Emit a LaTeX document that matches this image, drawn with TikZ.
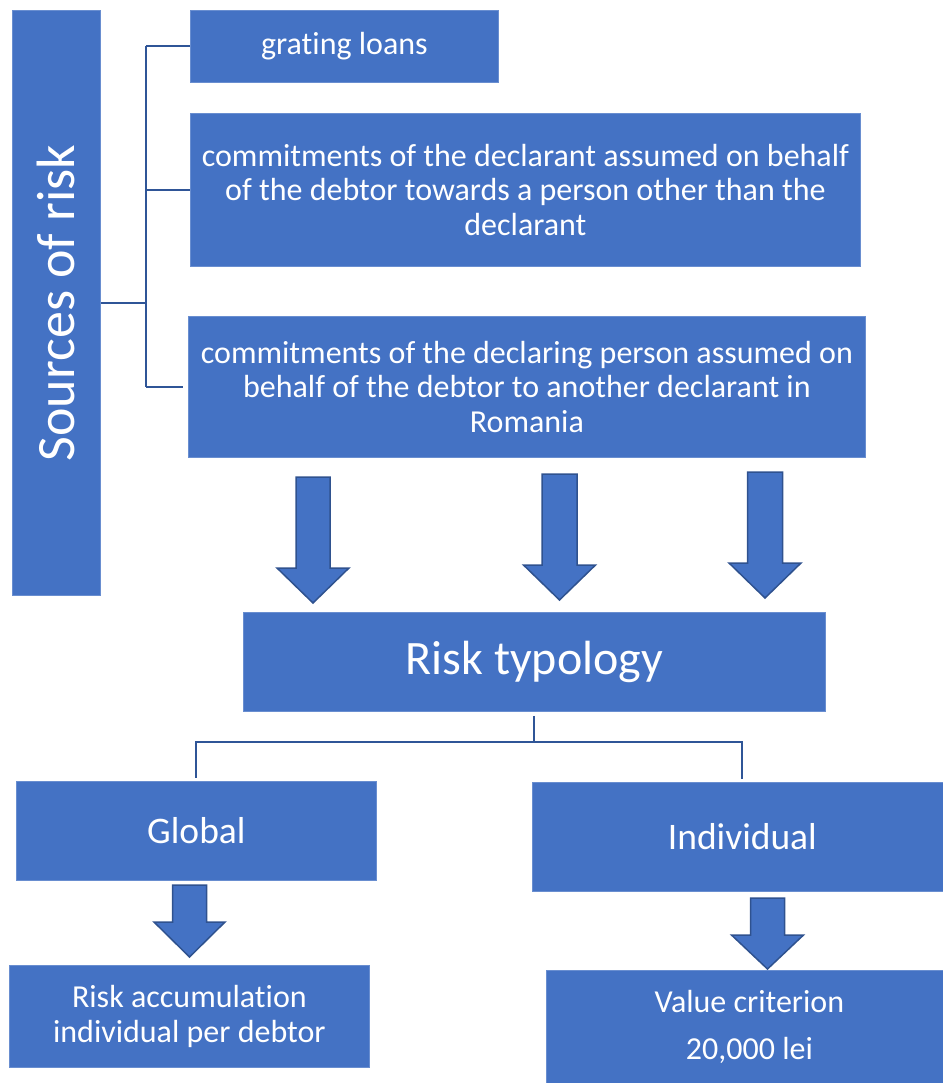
\documentclass[tikz,border=0pt]{standalone}
\usepackage{fontspec}
\setmainfont{Carlito}[Ligatures=NoCommon]
\usepackage{xcolor}

\definecolor{boxblue}{HTML}{4472C4}
\definecolor{lineblue}{HTML}{2F5597}
\definecolor{edgeblue}{HTML}{2F528F}

% block arrow: centre x, top, head base, tip, shaft half width, head half width
\newcommand{\blockarrow}[6]{%
    \draw[bigarrow] (#1-#5,#2) -- (#1+#5,#2) -- (#1+#5,#3) -- (#1+#6,#3)
        -- (#1,#4) -- (#1-#6,#3) -- (#1-#5,#3) -- cycle;}

\tikzset{
    box/.style={fill=boxblue, draw=boxblue!80!white, line width=0.8pt,
        inner sep=0pt, text=white, align=center, anchor=north west},
    txt/.style={font=\fontsize{32}{34.5}\selectfont},
    link/.style={draw=lineblue, line width=2pt},
    bigarrow/.style={fill=boxblue, draw=edgeblue, line width=1.5pt}
}

\begin{document}
\begin{tikzpicture}[x=1pt, y=-1pt]
        \useasboundingbox (0,0) rectangle (942,1083);

        \node[box, minimum width=88, minimum height=585] (src) at (12,10) {};
        \node[rotate=90, text=white, font=\fontsize{54}{60}\selectfont]
            (srctext) at (src.center) {Sources of risk};

        \node[box, txt, minimum width=308, minimum height=72] (loans) at (190,10) {grating loans};
        \node[box, txt, minimum width=670, minimum height=153] (com1) at (190,113)
            {commitments of the declarant assumed on behalf\\of the debtor towards a person other than the\\declarant};
        \node[box, txt, minimum width=677, minimum height=141] (com2) at (188,316)
            {commitments of the declaring person assumed on\\behalf of the debtor to another declarant in\\Romania};

        \node[box, font=\fontsize{48}{56}\selectfont, minimum width=582, minimum height=99] (typ) at (243,612) {Risk typology};
        \node[box, font=\fontsize{37.5}{42}\selectfont, minimum width=360, minimum height=99] (glob) at (16,781) {Global};
        \node[box, font=\fontsize{37.5}{42}\selectfont, minimum width=420, minimum height=109] (indiv) at (532,782) {Individual};

        \node[box, txt, minimum width=360, minimum height=102] (accum) at (9,965)
            {Risk accumulation\\individual per debtor};
        \node[box, txt, minimum width=406, minimum height=113] (value) at (546,970)
            {Value criterion\\[12pt]20,000 lei};

        % sources connector
        \draw[link] (src.east) -- ++(45,0) coordinate (hub);
        \draw[link] (hub |- loans.west) -- (hub |- com2.west);
        \draw[link] (hub |- loans.west) -- (loans.west);
        \draw[link] (hub |- com1.west) -- (com1.west);
        \draw[link] (hub |- com2.west) -- ([xshift=-5]com2.west);

        % typology split
        \draw[link] ([yshift=-4]typ.south) -- ++(0,26) coordinate (split);
        \draw[link] (split) -| ([yshift=3]glob.north);
        \draw[link] (split) -| ([yshift=3]indiv.north);

        % block arrows
        \blockarrow{313}{477}{568}{603}{17}{36}
        \blockarrow{559.5}{474}{565}{600}{17.5}{36}
        \blockarrow{765}{472}{563}{598}{17.5}{36}
        \blockarrow{189.5}{885}{922}{957}{17}{35.5}
        \blockarrow{767.5}{898}{935}{969}{17}{36}
\end{tikzpicture}
\end{document}
